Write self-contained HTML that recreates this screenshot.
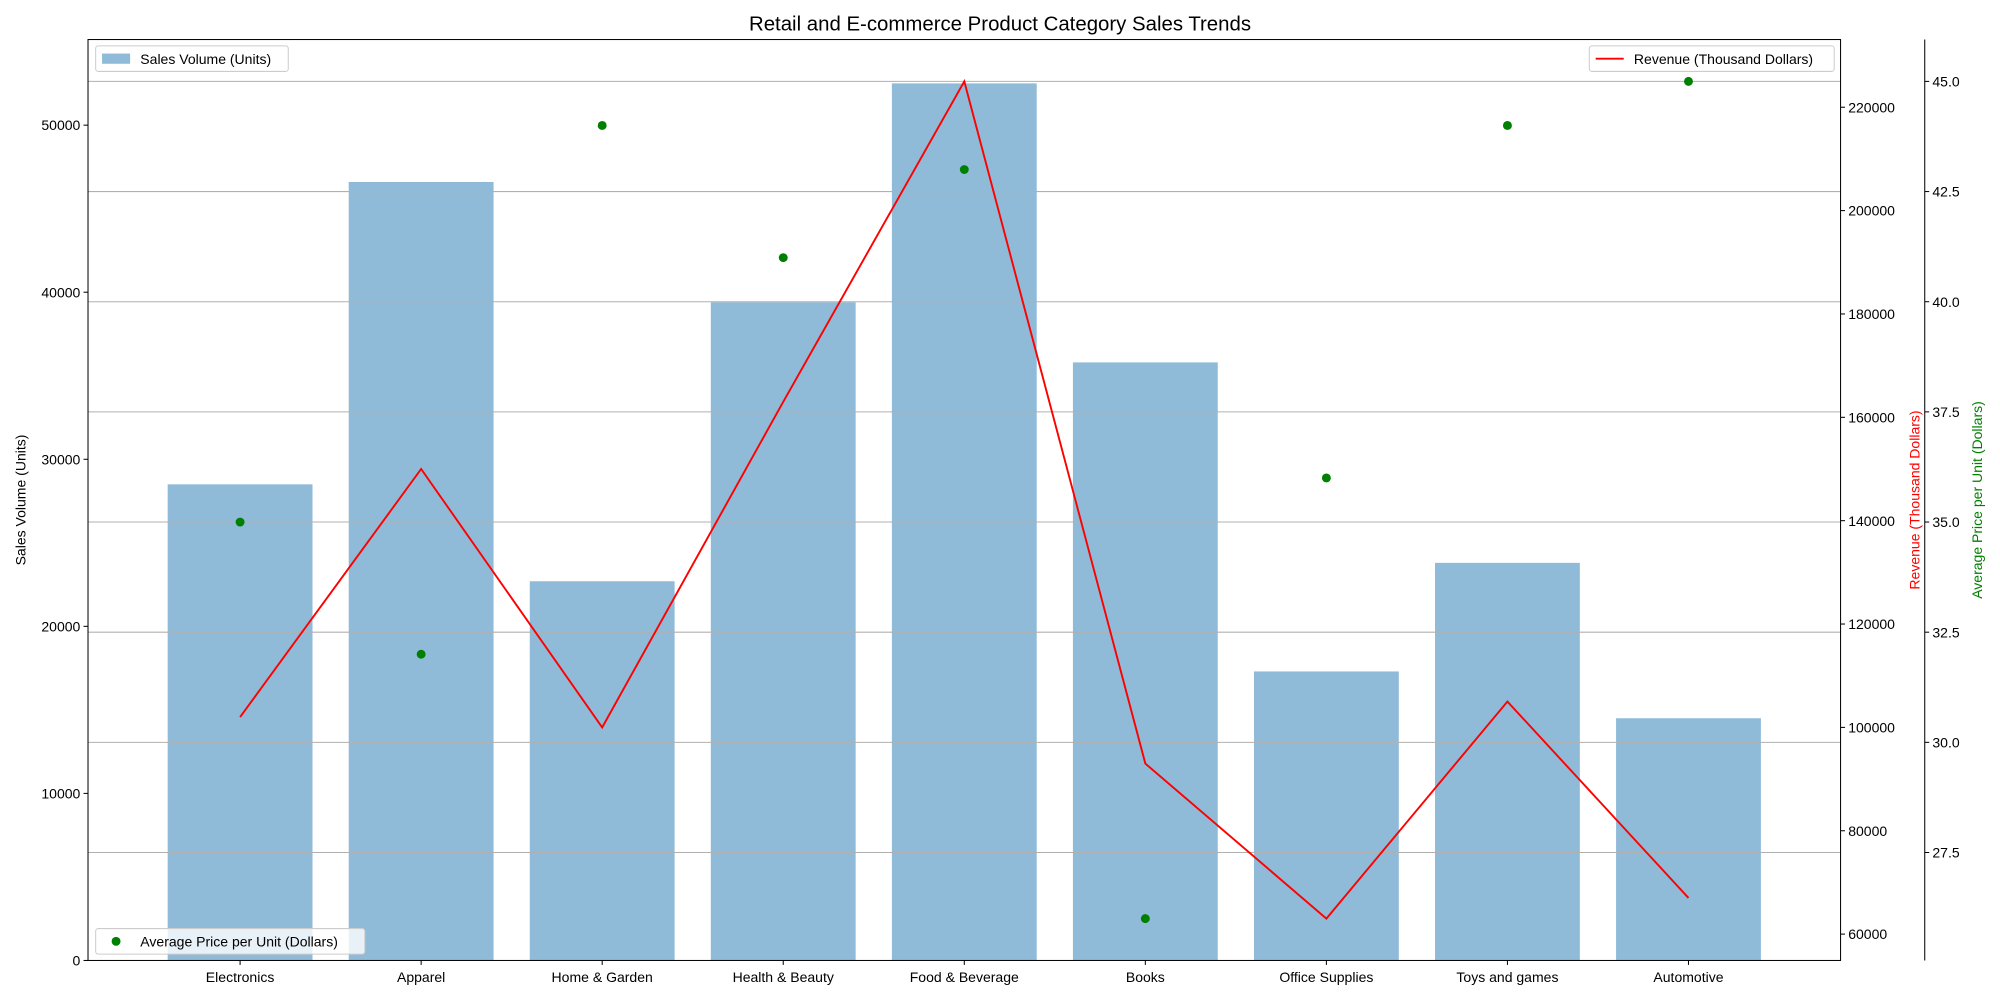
<!DOCTYPE html>
<html><head><meta charset="utf-8"><style>
html,body{margin:0;padding:0;background:#fff;}
svg{display:block;font-family:"Liberation Sans","DejaVu Sans",sans-serif;}
</style></head><body>
<svg id="chart" width="2000" height="1000" viewBox="0 0 1568 784" xmlns="http://www.w3.org/2000/svg"></svg>
<script>
const categories = ["Electronics","Apparel","Home & Garden","Health & Beauty","Food & Beverage","Books","Office Supplies","Toys and games","Automotive"];
const salesVolume = [28500,46600,22700,39400,52500,35800,17300,23800,14500];
const revenue = [102000,150000,100000,163000,225000,93000,63000,105000,67000];
const avgPrice = [35.0,32.0,44.0,41.0,43.0,26.0,36.0,44.0,45.0];
const salesTicks = [0,10000,20000,30000,40000,50000];
const revenueTicks = [60000,80000,100000,120000,140000,160000,180000,200000,220000];
const priceTicks = [27.5,30.0,32.5,35.0,37.5,40.0,42.5,45.0];

const NS="http://www.w3.org/2000/svg";
const svg=document.getElementById('chart');
const L=69,R=1443,T=31,B=753;
function mk(tag,attrs,parent,text){const e=document.createElementNS(NS,tag);for(const k in attrs)e.setAttribute(k,attrs[k]);if(text!==undefined)e.textContent=text;(parent||svg).appendChild(e);return e;}
function lim(arr,inc0){let mn=Math.min(...arr),mx=Math.max(...arr);if(inc0)mn=Math.min(0,mn);const m=(mx-mn)*0.05;return [inc0?0:mn-m,mx+m];}
const n=categories.length;
const xl=[-0.4-(n-1+0.8)*0.05,(n-1)+0.4+(n-1+0.8)*0.05];
const xS=i=>L+(i-xl[0])/(xl[1]-xl[0])*(R-L);
const sl=[0,Math.max(...salesVolume)*1.05];
const yS=v=>B-(v-sl[0])/(sl[1]-sl[0])*(B-T);
const rl=lim(revenue);
const yR=v=>B-(v-rl[0])/(rl[1]-rl[0])*(B-T);
const pl=lim(avgPrice);
const yP=v=>B-(v-pl[0])/(pl[1]-pl[0])*(B-T);

const bw=(xS(0.8)-xS(0));
categories.forEach((c,i)=>{
  const r=mk('rect',{x:xS(i)-bw/2,y:yS(salesVolume[i]),width:bw,height:B-yS(salesVolume[i]),fill:'#8fbbd9'});
  
  
});
priceTicks.forEach(t=>{const y=yP(t);
  const g=mk('line',{x1:L,x2:R,y1:y,y2:y,stroke:'#b0b0b0','stroke-width':0.8});
  
  
});
const pts=revenue.map((v,i)=>xS(i)+','+yR(v)).join(' ');
const pl1=mk('polyline',{points:pts,fill:'none',stroke:'#ff0000','stroke-width':1.5});


avgPrice.forEach((v,i)=>{
  const c=mk('circle',{cx:xS(i),cy:yP(v),r:3.5,fill:'#008000'});
  
  
});
mk('rect',{x:L,y:T,width:R-L,height:B-T,fill:'none',stroke:'#000','stroke-width':0.8});
categories.forEach((c,i)=>{const x=xS(i);
  mk('line',{x1:x,x2:x,y1:B,y2:B+3.5,stroke:'#000','stroke-width':0.8});
  const t=mk('text',{x:x,y:B+17,'text-anchor':'middle','font-size':11},null,c);
  
  
});
salesTicks.forEach(v=>{const y=yS(v);
  mk('line',{x1:L-3.5,x2:L,y1:y,y2:y,stroke:'#000','stroke-width':0.8});
  const t=mk('text',{x:L-6,y:y+4,'text-anchor':'end','font-size':11},null,String(v));
  
  
});
revenueTicks.forEach(v=>{const y=yR(v);
  mk('line',{x1:R,x2:R+3.5,y1:y,y2:y,stroke:'#000','stroke-width':0.8});
  const t=mk('text',{x:R+6,y:y+4,'font-size':11},null,String(v));
  
  
});
const SX=1509;
mk('line',{x1:SX,x2:SX,y1:T,y2:B,stroke:'#000','stroke-width':0.8});
priceTicks.forEach(v=>{const y=yP(v);
  mk('line',{x1:SX,x2:SX+3.5,y1:y,y2:y,stroke:'#000','stroke-width':0.8});
  const t=mk('text',{x:SX+6,y:y+4,'font-size':11},null,v.toFixed(1));
  
  
});
let t;
t=mk('text',{x:784,y:24,'text-anchor':'middle','font-size':16},null,'Retail and E-commerce Product Category Sales Trends');

t=mk('text',{x:20,y:392,'text-anchor':'middle','font-size':11,transform:'rotate(-90 20 392)'},null,'Sales Volume (Units)');

t=mk('text',{x:1505,y:392,'text-anchor':'middle','font-size':11,fill:'#ff0000',transform:'rotate(-90 1505 392)'},null,'Revenue (Thousand Dollars)');

t=mk('text',{x:1554,y:392,'text-anchor':'middle','font-size':11,fill:'#008000',transform:'rotate(-90 1554 392)'},null,'Average Price per Unit (Dollars)');

function legend(x,y,w,name,label,kind){
  const g=mk('g',{});
  
  
  mk('rect',{x:x,y:y,width:w,height:20,rx:2,fill:'#fff','fill-opacity':0.8,stroke:'#cccccc','stroke-width':0.8},g);
  if(kind==='bar')mk('rect',{x:x+5,y:y+6,width:22,height:8,fill:'#8fbbd9'},g);
  else if(kind==='line')mk('line',{x1:x+5,x2:x+27,y1:y+10,y2:y+10,stroke:'#ff0000','stroke-width':1.5},g);
  else mk('circle',{cx:x+16,cy:y+10,r:3.5,fill:'#008000'},g);
  mk('text',{x:x+35,y:y+14,'font-size':11},g,label);
}
legend(75,36,151,'sales-legend','Sales Volume (Units)','bar');
legend(1246,36,192,'revenue-legend','Revenue (Thousand Dollars)','line');
legend(75,728,211,'price-legend','Average Price per Unit (Dollars)','dot');
</script>
</body></html>
